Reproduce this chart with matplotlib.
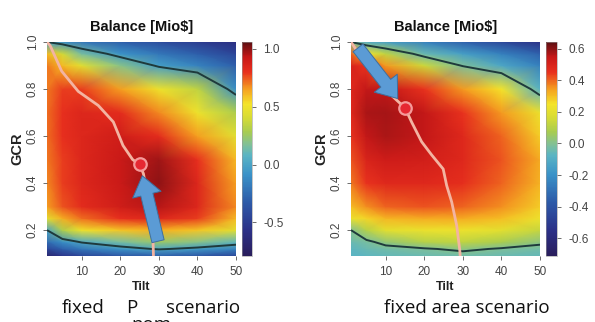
import numpy as np
import matplotlib
matplotlib.use("Agg")
import matplotlib.pyplot as plt
from matplotlib.colors import LinearSegmentedColormap

# ---------------- data ----------------
TILT = [1, 5, 10, 20, 30, 40, 50]
GCR = [0.09, 0.12, 0.15, 0.2, 0.25, 0.3, 0.4, 0.5, 0.6, 0.7, 0.8, 0.9, 0.95, 1.0]

# Balance [Mio$], rows = GCR (bottom -> top), cols = TILT
BAL_PNOM = [
    [-0.70, -0.55, -0.45, -0.35, -0.30, -0.35, -0.45],
    [-0.45, -0.30, -0.20, -0.08, 0.02, -0.05, -0.15],
    [-0.25, -0.10, 0.02, 0.15, 0.25, 0.20, 0.10],
    [0.00, 0.30, 0.50, 0.58, 0.62, 0.58, 0.45],
    [0.45, 0.62, 0.72, 0.80, 0.85, 0.78, 0.60],
    [0.65, 0.75, 0.82, 0.90, 0.95, 0.85, 0.68],
    [0.68, 0.78, 0.85, 0.92, 1.00, 0.85, 0.65],
    [0.70, 0.78, 0.85, 0.92, 0.98, 0.80, 0.60],
    [0.72, 0.80, 0.85, 0.90, 0.82, 0.65, 0.45],
    [0.72, 0.80, 0.85, 0.82, 0.68, 0.50, 0.30],
    [0.70, 0.78, 0.78, 0.65, 0.50, 0.35, -0.10],
    [0.70, 0.60, 0.45, 0.20, -0.03, -0.15, -0.30],
    [0.60, 0.40, 0.15, -0.08, -0.20, -0.30, -0.45],
    [0.00, -0.10, -0.20, -0.30, -0.40, -0.50, -0.60],
]
BAL_AREA = [
    [-0.08, -0.07, -0.06, -0.05, -0.04, -0.05, -0.06],
    [-0.07, -0.05, -0.03, -0.01, 0.02, -0.01, -0.03],
    [-0.05, -0.02, 0.03, 0.10, 0.12, 0.08, 0.02],
    [0.00, 0.10, 0.20, 0.22, 0.23, 0.20, 0.13],
    [0.22, 0.27, 0.31, 0.33, 0.33, 0.30, 0.23],
    [0.30, 0.36, 0.40, 0.42, 0.40, 0.36, 0.28],
    [0.38, 0.45, 0.48, 0.48, 0.46, 0.40, 0.32],
    [0.42, 0.50, 0.53, 0.52, 0.48, 0.42, 0.33],
    [0.45, 0.55, 0.57, 0.55, 0.48, 0.40, 0.28],
    [0.48, 0.57, 0.58, 0.55, 0.45, 0.35, 0.22],
    [0.48, 0.55, 0.55, 0.45, 0.35, 0.25, -0.08],
    [0.50, 0.45, 0.35, 0.15, -0.01, -0.12, -0.25],
    [0.40, 0.25, 0.12, -0.05, -0.15, -0.25, -0.35],
    [0.00, -0.10, -0.15, -0.25, -0.35, -0.45, -0.55],
]

# optimum-GCR path per tilt
OPT_PNOM_TILT = [1, 1.8, 4.8, 9.1, 14.3, 18.2, 20.7, 23.2, 25, 26, 27, 28, 28.5, 28.6]
OPT_PNOM_GCR = [1.0, 0.985, 0.876, 0.79, 0.73, 0.66, 0.56, 0.50, 0.48, 0.44, 0.35, 0.25, 0.15, 0.09]
OPT_AREA_TILT = [1, 4.5, 9.7, 15, 16.7, 19.3, 21.9, 24.9, 25.8, 27.1, 28.4, 29.2, 29.3]
OPT_AREA_GCR = [1.0, 0.915, 0.80, 0.72, 0.66, 0.576, 0.52, 0.46, 0.39, 0.32, 0.22, 0.115, 0.09]

BEST_PNOM = (25, 0.48)
BEST_AREA = (15, 0.72)

LIM_PNOM = (-0.79, 1.06)
LIM_AREA = (-0.714, 0.644)
CB_TICKS_PNOM = [-0.5, 0.0, 0.5, 1.0]
CB_TICKS_AREA = [-0.6, -0.4, -0.2, 0.0, 0.2, 0.4, 0.6]
X_TICKS = [10, 20, 30, 40, 50]
Y_TICKS = [0.2, 0.4, 0.6, 0.8, 1.0]

TITLE = "Balance [Mio$]"

# ---------------- style ----------------
plt.rcParams["font.family"] = ["Liberation Sans", "DejaVu Sans"]

nodes = [0.0, 0.12, 0.25, 0.38, 0.47, 0.52, 0.58, 0.65, 0.71, 0.78, 0.86, 0.93, 1.0]
cols = ["#2a1e5c", "#2c3188", "#2d5aa8", "#3a92c8", "#5ab4c4", "#80c098",
        "#a8cc50", "#d8dc34", "#f4e42a", "#f5a020", "#e8301e", "#c81818", "#5e0f12"]
cmap = LinearSegmentedColormap.from_list("rjet", list(zip(nodes, cols)))

W, H = 595, 322
fig = plt.figure(figsize=(W / 100, H / 100), dpi=100)


def fx(px):
    return px / W


def fy(py):
    return 1 - py / H


def panel(x0, x1, cb0, cb1, Z, lims, cbticks, ot, og, best, arrow_off):
    top, bot = 42, 256
    ax = fig.add_axes([fx(x0), fy(bot), fx(x1) - fx(x0), fy(top) - fy(bot)])
    T, G = np.meshgrid(TILT, GCR)
    Z = np.array(Z)
    m = ax.pcolormesh(T, G, Z, shading="gouraud", cmap=cmap,
                      vmin=lims[0], vmax=lims[1], rasterized=True)
    ax.contour(T, G, Z, levels=[0.0], colors="#1f3a3c", linewidths=1.4)
    ax.plot(ot, og, color="#f3b4a2", lw=2.0, solid_capstyle="round", zorder=3)
    ax.plot([best[0]], [best[1]], "o", ms=9, mfc="#e62832", mec="#f59a9a",
            mew=1.6, zorder=4)
    ax.annotate("", xy=best, xytext=arrow_off, textcoords="offset points",
                arrowprops=dict(arrowstyle="simple,head_length=14,head_width=21,tail_width=9",
                                mutation_scale=1, fc="#5b9bd5", ec="#3f6f9e", lw=0.7,
                                shrinkA=0, shrinkB=8.5), zorder=5)
    ax.set_xlim(1, 50)
    ax.set_ylim(0.09, 1.0)
    ax.set_xticks(X_TICKS)
    ax.set_yticks(Y_TICKS)
    ax.set_yticklabels([f"{v:.1f}" for v in Y_TICKS], rotation=90, va="center")
    ax.tick_params(length=3, width=0.6, color="#555555", labelsize=8.5,
                   labelcolor="#444444", pad=3)
    ax.tick_params(axis="x", pad=4)
    for s in ax.spines.values():
        s.set_visible(False)
    ax.set_title(TITLE, fontsize=10.5, fontweight="bold", pad=8, color="#111111")
    ax.set_xlabel("Tilt", fontsize=9, fontweight="bold", labelpad=2, color="#222222")
    ax.set_ylabel("GCR", fontsize=10.5, fontweight="bold", labelpad=2, color="#222222")

    cax = fig.add_axes([fx(cb0), fy(bot), fx(cb1) - fx(cb0), fy(top) - fy(bot)])
    cb = fig.colorbar(m, cax=cax, ticks=cbticks)
    cb.ax.set_yticklabels([f"{v:.1f}" for v in cbticks])
    cb.ax.tick_params(length=3, width=0.6, color="#555555", labelsize=8.5,
                      labelcolor="#444444", pad=5)
    cb.outline.set_linewidth(0.4)
    cb.outline.set_edgecolor("#999999")
    return ax


panel(47, 236, 242, 252, BAL_PNOM, LIM_PNOM, CB_TICKS_PNOM,
      OPT_PNOM_TILT, OPT_PNOM_GCR, BEST_PNOM, (13.3, -55.4))
panel(351, 540, 546, 557, BAL_AREA, LIM_AREA, CB_TICKS_AREA,
      OPT_AREA_TILT, OPT_AREA_GCR, BEST_AREA, (-33.8, 43.2))

cap = dict(fontsize=13.5, family=["Open Sans", "DejaVu Sans"], color="#111111", va="baseline")
fig.text(fx(62), fy(313), "fixed", ha="left", **cap)
fig.text(fx(126), fy(313), "P", ha="left", **cap)
fig.text(fx(131), fy(330), "nom", ha="left", **cap)
fig.text(fx(166), fy(313), "scenario", ha="left", **cap)
fig.text(fx(467), fy(313), "fixed area scenario", ha="center", **cap)

fig.savefig("out.png", dpi=100)
